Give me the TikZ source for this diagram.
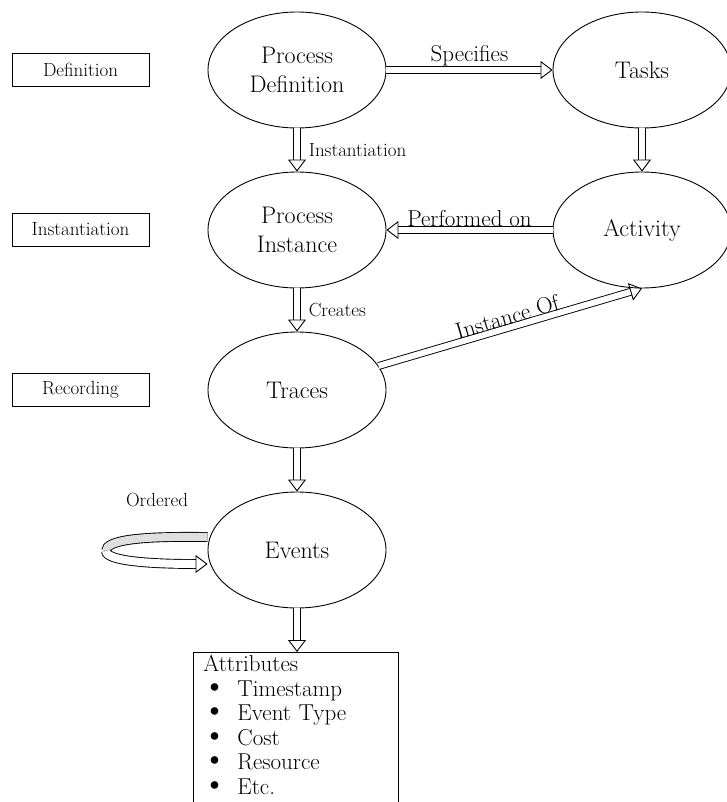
\documentclass[tikz,border=0pt]{standalone}
\usetikzlibrary{arrows.meta,shapes.geometric}
\begin{document}
\begin{tikzpicture}[x=1pt,y=-1pt,
  big/.style={font=\fontsize{24}{29}\selectfont},
  mid/.style={font=\fontsize{23}{28}\selectfont},
  small/.style={font=\fontsize{19}{23}\selectfont},
  state/.style={ellipse, draw, line width=0.9pt, minimum width=178pt,
    minimum height=116pt, inner sep=0pt, align=center, big},
  phase/.style={draw, line width=0.8pt, minimum width=137pt,
    minimum height=33pt, inner sep=0pt, small},
  flow/.style={double, double distance=6pt, line width=0.9pt,
    -{Triangle[open,length=12pt,width=18pt]}},
]
\useasboundingbox (0,0) rectangle (726,802);

% phase boxes on the left
\node[phase] (pdef)  at (80.5,69.5)  {Definition};
\node[phase] (pinst) at (80.5,229.5) {Instantiation};
\node[phase] (prec)  at (80.5,389.5) {Recording};

% main concepts
\node[state] (procdef)  at (297,70)  {Process\\Definition};
\node[state] (tasks)    at (642,70)  {Tasks};
\node[state] (procinst) at (297,230) {Process\\Instance};
\node[state] (activity) at (642,230) {Activity};
\node[state] (traces)   at (297,390) {Traces};
\node[state] (events)   at (297,550) {Events};

% attribute list (the box runs on below the page edge)
\newcommand{\attritem}{\makebox[34pt][l]{\hspace{-1pt}\fontsize{34}{24.5}\selectfont\textbullet}}
\node[draw, line width=0.8pt, anchor=north west, text width=185pt,
  inner xsep=10pt, inner ysep=3pt, align=left,
  font=\fontsize{23}{24.5}\selectfont] (attr) at (193,652)
  {Attributes\\
   \attritem Timestamp\\
   \attritem Event Type\\
   \attritem Cost\\
   \attritem Resource\\
   \attritem Etc.\\
   \mbox{}};

% relations
\draw[flow] (procdef.east) -- node[above, mid] (lspec) {Specifies} (tasks.west);
\draw[flow] (procdef.south) -- node[right, small, xshift=8pt] (linst) {Instantiation} (procinst.north);
\draw[flow] (tasks.south) -- (activity.north);
\draw[flow] (activity.west) -- node[above, mid] (lperf) {Performed on} (procinst.east);
\draw[flow] (procinst.south) -- node[right, small, xshift=8pt] (lcre) {Creates} (traces.north);
\draw[flow] (traces) -- node[above, sloped, mid, inner sep=2pt] (linof) {Instance Of} (activity.south);
\draw[flow] (traces.south) -- (events.north);
\draw[flow] (events.south) -- (events.south |- attr.north);

% self loop on events: grey back half, white front half with the tip
\coordinate (turn) at (106,551);
\draw[double, double distance=8pt, line width=0.9pt, double=gray!25]
  ([yshift=13pt]events.west) .. controls (140,536) and (106,540) .. (turn);
\draw[flow, double distance=8pt]
  (turn) .. controls (106,561) and (150,564) .. ([yshift=-14pt]events.west);
\node[small] (lord) at (157,500) {Ordered};
\end{tikzpicture}
\end{document}
